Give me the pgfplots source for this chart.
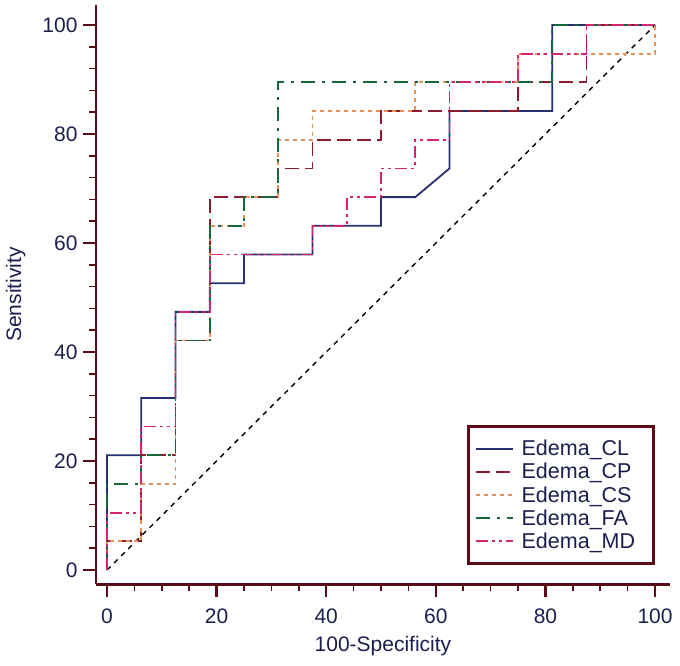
\documentclass[border=0pt]{standalone}
\usepackage{pgfplots}
\pgfplotsset{compat=1.18}
\usepackage{fontspec}
\setmainfont{Liberation Sans}
\definecolor{axcol}{HTML}{5C0A16}
\definecolor{txt}{HTML}{1C1F4E}
\definecolor{cCL}{HTML}{27306E}
\definecolor{cCP}{HTML}{8E1B2E}
\definecolor{cCS}{HTML}{E8925A}
\definecolor{cFA}{HTML}{17683A}
\definecolor{cMD}{HTML}{D8246F}
\begin{document}
\begin{tikzpicture}
\begin{axis}[
  scale only axis, width=573.8pt, height=579.3pt,
  xmin=-2, xmax=102.7, ymin=-2.6, ymax=103.7,
  axis x line=bottom, axis y line=left,
  axis line style={-, draw=axcol, line width=2.8pt},
  xtick={0,20,...,100}, ytick={0,20,...,100},
  minor x tick num=3, minor y tick num=4,
  tick align=outside,
  major tick length=13pt, minor tick length=7pt,
  every major tick/.append style={draw=axcol, line width=2.4pt},
  every minor tick/.append style={draw=axcol, line width=1.6pt},
  /pgf/number format/assume math mode=true,
  ticklabel style={font=\fontsize{21}{21}\selectfont, text=txt},
  xticklabel style={yshift=-8pt},
  yticklabel style={xshift=-2pt},
  xlabel={100-Specificity}, ylabel={Sensitivity},
  label style={font=\fontsize{21}{21}\selectfont, text=txt},
  xlabel style={yshift=-6pt},
  ylabel style={yshift=10pt},
  legend cell align=left,
  legend image code/.code={\draw[#1] (0pt,0pt) -- (37pt,0pt);},
  legend style={at={(axis cs:100,0.9)}, anchor=south east, draw=axcol,
    line width=2.8pt, fill=white, font=\fontsize{21.5}{21.5}\selectfont, text=txt,
    inner xsep=6pt, inner ysep=12pt, row sep=2pt,
    nodes={text width=118pt, inner xsep=8pt}},
]
\coordinate (o) at (axis cs:0,0);
\addplot[black, dash pattern=on 5pt off 5pt, line width=1.4pt, forget plot] coordinates {(0,0)(100,100)};
\addplot[cCL, line width=1.8pt] coordinates {(0,0)(0,21.053)(6.25,21.053)(6.25,31.579)(12.5,31.579)(12.5,47.368)(18.75,47.368)(18.75,52.632)(25,52.632)(25,57.895)(37.5,57.895)(37.5,63.158)(50,63.158)(50,68.421)(56.25,68.421)(62.5,73.684)(62.5,84.211)(81.25,84.211)(81.25,100)(100,100)};
\addplot[cCP, line width=1.8pt, dash pattern=on 14pt off 6pt] coordinates {(0,0)(0,5.263)(6.25,5.263)(6.25,21.053)(12.5,21.053)(12.5,42.105)(18.75,42.105)(18.75,68.421)(31.25,68.421)(31.25,73.684)(37.5,73.684)(37.5,78.947)(50,78.947)(50,84.211)(75,84.211)(75,89.474)(87.5,89.474)(87.5,100)(100,100)};
\addplot[cCS, line width=1.8pt, dash pattern=on 4pt off 4pt] coordinates {(0,0)(0,5.263)(6.25,5.263)(6.25,15.789)(12.5,15.789)(12.5,42.105)(18.75,42.105)(18.75,63.158)(25,63.158)(25,68.421)(31.25,68.421)(31.25,78.947)(37.5,78.947)(37.5,84.211)(56.25,84.211)(56.25,89.474)(75,89.474)(75,94.737)(100,94.737)(100,100)};
\addplot[cFA, line width=1.8pt, dash pattern=on 14pt off 7pt on 3pt off 7pt] coordinates {(0,0)(0,15.789)(6.25,15.789)(6.25,21.053)(12.5,21.053)(12.5,42.105)(18.75,42.105)(18.75,63.158)(25,63.158)(25,68.421)(31.25,68.421)(31.25,89.474)(81.25,89.474)(81.25,100)(100,100)};
\addplot[cMD, line width=1.8pt, dash pattern=on 12pt off 4pt on 3pt off 4pt on 3pt off 4pt] coordinates {(0,0)(0,10.526)(6.25,10.526)(6.25,26.316)(12.5,26.316)(12.5,47.368)(18.75,47.368)(18.75,57.895)(37.5,57.895)(37.5,63.158)(43.75,63.158)(43.75,68.421)(50,68.421)(50,73.684)(56.25,73.684)(56.25,78.947)(62.5,78.947)(62.5,89.474)(75,89.474)(75,94.737)(87.5,94.737)(87.5,100)(100,100)};
\legend{Edema\_CL,Edema\_CP,Edema\_CS,Edema\_FA,Edema\_MD}
\end{axis}
\path (o) ++(-107pt,-95pt) rectangle ++(680pt,665pt);
\end{tikzpicture}
\end{document}
